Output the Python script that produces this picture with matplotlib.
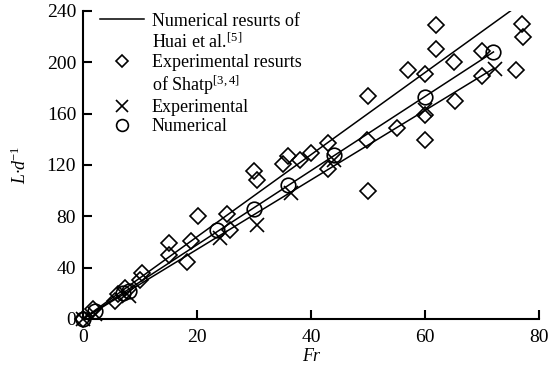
import matplotlib
matplotlib.use("Agg")
import matplotlib.pyplot as plt
from matplotlib.lines import Line2D

plt.rcParams['font.family'] = ['Liberation Serif', 'DejaVu Serif']
plt.rcParams['mathtext.fontset'] = 'custom'
plt.rcParams['mathtext.rm'] = 'Liberation Serif'
plt.rcParams['mathtext.it'] = 'Liberation Serif:italic'

# Experimental results of Shatp [3,4]
shatp_fr = [0, 1.8, 5.6, 6.1, 7.4, 10.0, 10.3, 15.0, 15.0, 18.2, 19.0, 20.2,
            25.2, 25.8, 29.9, 30.5, 35.1, 36.0, 38.0, 40.0, 43.0, 43.0, 49.8,
            50.0, 50.0, 55.0, 57.0, 60.0, 60.0, 60.0, 62.0, 62.0, 65.0, 65.3,
            70.0, 70.0, 76.0, 77.0, 77.2]
shatp_ld = [0, 8, 14, 19, 24, 30, 36, 50, 59, 44, 61, 80,
            82, 69, 115, 108, 121, 127, 124, 129, 117, 137, 139,
            174, 100, 149, 194, 191, 159, 139, 229, 210, 200, 170,
            209, 189, 194, 230, 220]

# Present experiments and simulations
exp_fr = [0, 2, 8, 24, 30.5, 36.5, 44, 60, 72.3]
exp_ld = [0, 4, 18, 63, 73, 98, 124, 163, 195]
num_fr = [0, 2, 7, 8, 23.5, 30, 36, 44, 60, 72]
num_ld = [0, 6, 20, 22, 69, 86, 104, 128, 173, 208]

# Fitted trend lines
huai_fr = [0, 75]
huai_ld = [0, 240]
fit_fr = [0, 72]
num_fit = [0, 208]
exp_fit = [0, 195]

fig = plt.figure(figsize=(5.58, 3.76), dpi=100)
ax = fig.add_axes([0.149, 0.152, 0.817, 0.819])

lw = 1.1
mew = 1.2
ax.plot(huai_fr, huai_ld, color='black', lw=lw)
ax.plot(fit_fr, num_fit, color='black', lw=lw)
ax.plot(fit_fr, exp_fit, color='black', lw=lw)
ax.plot(shatp_fr, shatp_ld, 'D', ms=8.3, mfc='none', mec='black', mew=mew,
        clip_on=False)
ax.plot(exp_fr, exp_ld, 'x', ms=10, mec='black', mew=mew, clip_on=False)
ax.plot(num_fr, num_ld, 'o', ms=10.5, mfc='none', mec='black', mew=mew,
        clip_on=False)

ax.set_xlim(0, 80)
ax.set_ylim(0, 240)
ax.set_xticks([0, 20, 40, 60, 80])
ax.set_yticks([0, 40, 80, 120, 160, 200, 240])
ax.tick_params(direction='in', length=6.5, width=1.5, labelsize=14)
ax.tick_params(axis='x', pad=7)
ax.tick_params(axis='y', pad=5)
for side in ['top', 'right']:
    ax.spines[side].set_visible(False)
for side in ['left', 'bottom']:
    ax.spines[side].set_linewidth(1.5)

ax.set_xlabel('Fr', fontsize=13, fontstyle='italic', labelpad=2)
ax.set_ylabel('L·d$^{-1}$', fontsize=13, fontstyle='italic', labelpad=12)

# Legend: continuation lines get an empty handle so the marker sits on the first line
blank = Line2D([], [], linestyle='none')
handles = [
    Line2D([], [], color='black', lw=lw),
    blank,
    Line2D([], [], marker='D', ms=6.5, mfc='none', mec='black', mew=mew, linestyle='none'),
    blank,
    Line2D([], [], marker='x', ms=8, mec='black', mew=mew, linestyle='none'),
    Line2D([], [], marker='o', ms=8.5, mfc='none', mec='black', mew=mew, linestyle='none'),
]
labels = [
    'Numerical resurts of',
    'Huai et al.$^{[5]}$',
    'Experimental resurts',
    'of Shatp$^{[3,4]}$',
    'Experimental',
    'Numerical',
]
ax.legend(handles, labels, loc='upper left', frameon=False, fontsize=13,
          handlelength=2.4, handletextpad=0.45, labelspacing=0.13,
          borderaxespad=0.3, bbox_to_anchor=(0.01, 1.035))

fig.savefig('out.png', dpi=100)
